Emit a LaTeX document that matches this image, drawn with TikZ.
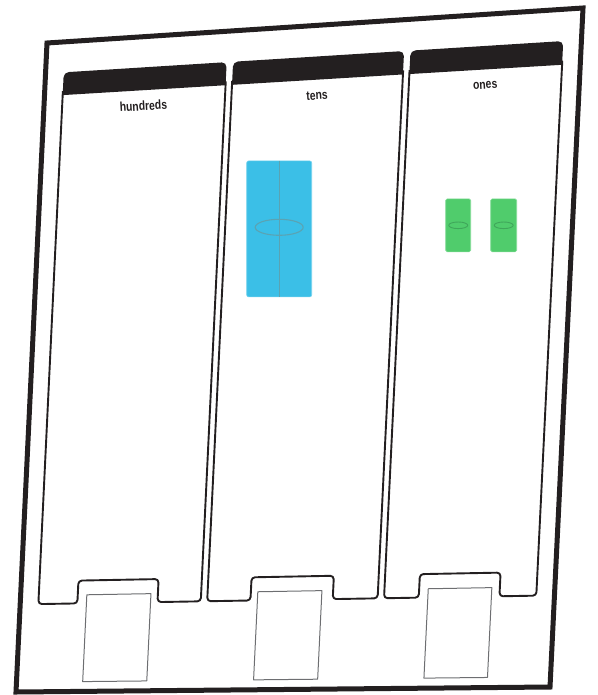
\documentclass[tikz,border=0pt]{standalone}
\usepackage{fontspec}
\setmainfont{Liberation Sans}
\definecolor{ink}{HTML}{231F20}
\definecolor{slotgray}{HTML}{6D6E71}
\definecolor{rodblue}{HTML}{3BBFE7}
\definecolor{rodline}{HTML}{5AA3B3}
\definecolor{unitgreen}{HTML}{50CC6C}
\definecolor{unitline}{HTML}{3FA65A}
% point on the tilted chart: u across, v down (both 0..1)
\newcommand{\chartpt}[2]{({47+536*(#1)-31*(#2)-2*(#1)*(#2)},{43-35*(#1)+649*(#2)+30*(#1)*(#2)})}
\begin{document}
\begin{tikzpicture}[x=1pt, y=-1pt, line join=round,
    frame/.style={draw=ink, line width=5pt, line join=miter},
    colhead/.style={fill=ink},
    colbody/.style={draw=ink, line width=1.9pt, rounded corners=3.5pt},
    slotbox/.style={draw=slotgray, line width=1pt},
    plabel/.style={font=\bfseries\fontsize{13}{15}\selectfont, text=ink,
      rotate=3.4, xscale=0.8, inner sep=0pt},
    rod/.style={fill=rodblue, draw=rodblue!70!white, line width=0.6pt,
      rounded corners=2pt, minimum width=65pt, minimum height=136pt, inner sep=0pt},
    unit/.style={fill=unitgreen, draw=unitgreen!70!white, line width=0.6pt,
      rounded corners=1.5pt, minimum width=25pt, minimum height=53pt, inner sep=0pt},
    rodmark/.style={draw=rodline, line width=1.1pt},
    unitmark/.style={draw=unitline, line width=0.9pt}]
  \useasboundingbox (0,0) rectangle (597,695);
  % outer frame
  \draw[frame] \chartpt{0}{0} -- \chartpt{1}{0} -- \chartpt{1}{1} -- \chartpt{0}{1} -- cycle;
  % hundreds
  \fill[colhead] \chartpt{0.034}{0.082} [rounded corners=5pt] -- \chartpt{0.034}{0.047}
    -- \chartpt{0.338}{0.047} [sharp corners] -- \chartpt{0.338}{0.082} -- cycle;
  \draw[colbody] \chartpt{0.034}{0.076} -- \chartpt{0.034}{0.865} -- \chartpt{0.107}{0.865}
    -- \chartpt{0.107}{0.830} -- \chartpt{0.257}{0.830} -- \chartpt{0.257}{0.865}
    -- \chartpt{0.338}{0.865} -- \chartpt{0.338}{0.076};
  \draw[slotbox] \chartpt{0.124}{0.852} -- \chartpt{0.244}{0.852} -- \chartpt{0.244}{0.985}
    -- \chartpt{0.124}{0.985} -- cycle;
  \path \chartpt{0.186}{0.106} node[plabel] (lh) {hundreds};
  % tens
  \fill[colhead] \chartpt{0.350}{0.082} [rounded corners=5pt] -- \chartpt{0.350}{0.047}
    -- \chartpt{0.669}{0.047} [sharp corners] -- \chartpt{0.669}{0.082} -- cycle;
  \draw[colbody] \chartpt{0.350}{0.076} -- \chartpt{0.350}{0.865} -- \chartpt{0.431}{0.865}
    -- \chartpt{0.431}{0.830} -- \chartpt{0.585}{0.830} -- \chartpt{0.585}{0.865}
    -- \chartpt{0.669}{0.865} -- \chartpt{0.669}{0.076};
  \draw[slotbox] \chartpt{0.444}{0.852} -- \chartpt{0.564}{0.852} -- \chartpt{0.564}{0.985}
    -- \chartpt{0.444}{0.985} -- cycle;
  \path \chartpt{0.510}{0.106} node[plabel] (lt) {tens};
  % ones
  \fill[colhead] \chartpt{0.681}{0.082} [rounded corners=5pt] -- \chartpt{0.681}{0.047}
    -- \chartpt{0.966}{0.047} [sharp corners] -- \chartpt{0.966}{0.082} -- cycle;
  \draw[colbody] \chartpt{0.681}{0.076} -- \chartpt{0.681}{0.865} -- \chartpt{0.746}{0.865}
    -- \chartpt{0.746}{0.830} -- \chartpt{0.897}{0.830} -- \chartpt{0.897}{0.865}
    -- \chartpt{0.966}{0.865} -- \chartpt{0.966}{0.076};
  \draw[slotbox] \chartpt{0.763}{0.852} -- \chartpt{0.882}{0.852} -- \chartpt{0.882}{0.985}
    -- \chartpt{0.763}{0.985} -- cycle;
  \path \chartpt{0.824}{0.106} node[plabel] (lo) {ones};
  % one ten-rod
  \node[rod] (rod) at (279.2,228.9) {};
  \draw[rodmark] (rod.north) -- (rod.south);
  \draw[rodmark] (279.2,227.3) ellipse (24 and 8);
  % two unit cubes
  \node[unit] (u1) at (458.2,225.3) {};
  \node[unit, minimum width=26pt] (u2) at (503.7,225.3) {};
  \draw[unitmark] (u1.center) ellipse (9.5 and 3.3);
  \draw[unitmark] (u2.center) ellipse (9.5 and 3.3);
\end{tikzpicture}
\end{document}
